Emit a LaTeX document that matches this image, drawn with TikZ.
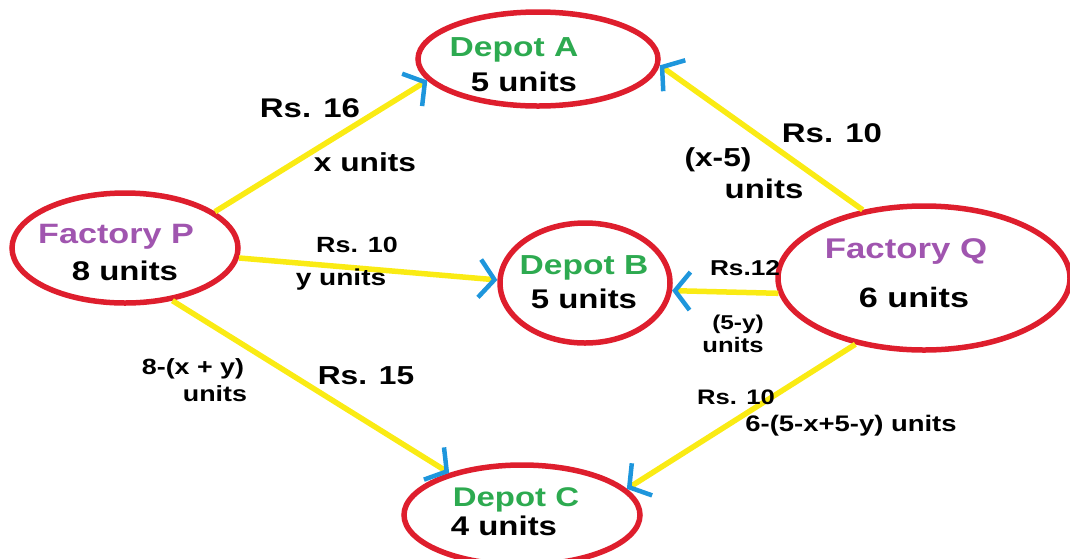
\documentclass[tikz,border=0pt]{standalone}
\usepackage{fontspec}
\setmainfont{Liberation Sans}[FakeStretch=1.22]
\usetikzlibrary{shapes.geometric,arrows.meta}
\definecolor{ringred}{RGB}{222,30,45}
\definecolor{flowyellow}{RGB}{250,235,20}
\definecolor{tipblue}{RGB}{30,150,220}
\definecolor{depgreen}{RGB}{45,170,80}
\definecolor{facpurple}{RGB}{160,85,175}
\newcommand{\fsz}[1]{\bfseries\fontsize{#1}{#1}\selectfont}
\tikzset{
  ring/.style={ellipse, draw=ringred, line width=5.5pt, inner sep=0pt},
  flow/.style={draw=flowyellow, line width=5.5pt,
    -{Straight Barb[length=15pt,width=38pt,line width=4.5pt,color=tipblue]}},
  lbl/.style={font=\fsz{20}, text=black, inner sep=0pt},
  biglbl/.style={font=\fsz{27}, text=black, inner sep=0pt},
  dname/.style={font=\fsz{27.5}, text=depgreen, inner sep=0pt},
  fname/.style={font=\fsz{28}, text=facpurple, inner sep=0pt},
  qty/.style={font=\fsz{27}, text=black, inner sep=0pt}
}
\begin{document}
\begin{tikzpicture}[x=1pt,y=-1pt]
\useasboundingbox (0,0) rectangle (1070,558);
\clip (0,0) rectangle (1070,558);
% ellipses
\node[ring, minimum width=240pt, minimum height=94pt] (A) at (538,59) {};
\node[ring, minimum width=226pt, minimum height=110pt] (P) at (125,248) {};
\node[ring, minimum width=170pt, minimum height=120pt] (B) at (585,283) {};
\node[ring, minimum width=292pt, minimum height=144pt] (Q) at (924,278) {};
\node[ring, minimum width=236pt, minimum height=100pt] (C) at (522,515) {};
% node texts
\node[dname] (At) at (514,50) {Depot A};
\node[qty] (Aq) at (524,82) {5 units};
\node[fname] (Pt) at (116,237) {Factory P};
\node[qty] (Pq) at (125,271) {8 units};
\node[dname] (Bt) at (584,268) {Depot B};
\node[qty] (Bq) at (584,299) {5 units};
\node[fname, font=\fsz{28.5}] (Qt) at (906,251) {Factory Q};
\node[qty, font=\fsz{28}] (Qq) at (914,297) {6 units};
\node[dname, font=\fsz{27}] (Ct) at (516,500) {Depot C};
\node[qty] (Cq) at (504,526) {4 units};
% connectors
\draw[flow] (P.22) -- (A.191);
\draw[flow] (Q.132) -- (A.357);
\draw[flow] (P.355) -- (B.178);
\draw[flow] (Q.186) -- (B.355);
\draw[flow] (P.312) -- (C.150);
\draw[flow] (Q.224) -- (C.14);
% labels
\node[biglbl] (l1) at (310,108) {Rs. 16};
\node[lbl, font=\fsz{26}] (l2) at (365,162) {x units};
\node[biglbl] (l3) at (832,133) {Rs. 10};
\node[lbl, font=\fsz{26}] (l4) at (718,160) {(x-5)};
\node[lbl, font=\fsz{27}] (l5) at (764,189) {units};
\node[lbl, font=\fsz{22}] (l6) at (357,245) {Rs. 10};
\node[lbl, font=\fsz{23}] (l7) at (341,280) {y units};
\node[lbl, font=\fsz{21.5}] (l8) at (745,268) {Rs.12};
\node[lbl, font=\fsz{20}] (l9) at (738,324) {(5-y)};
\node[lbl, font=\fsz{21}] (l10) at (733,345) {units};
\node[lbl, font=\fsz{22}] (l11) at (193,369) {8-(x + y)};
\node[lbl, font=\fsz{22}] (l12) at (215,394) {units};
\node[biglbl, font=\fsz{26}] (l13) at (366,376) {Rs. 15};
\node[lbl, font=\fsz{21}] (l14) at (736,397) {Rs. 10};
\node[lbl, font=\fsz{22.5}] (l15) at (851,426) {6-(5-x+5-y) units};
\end{tikzpicture}
\end{document}
